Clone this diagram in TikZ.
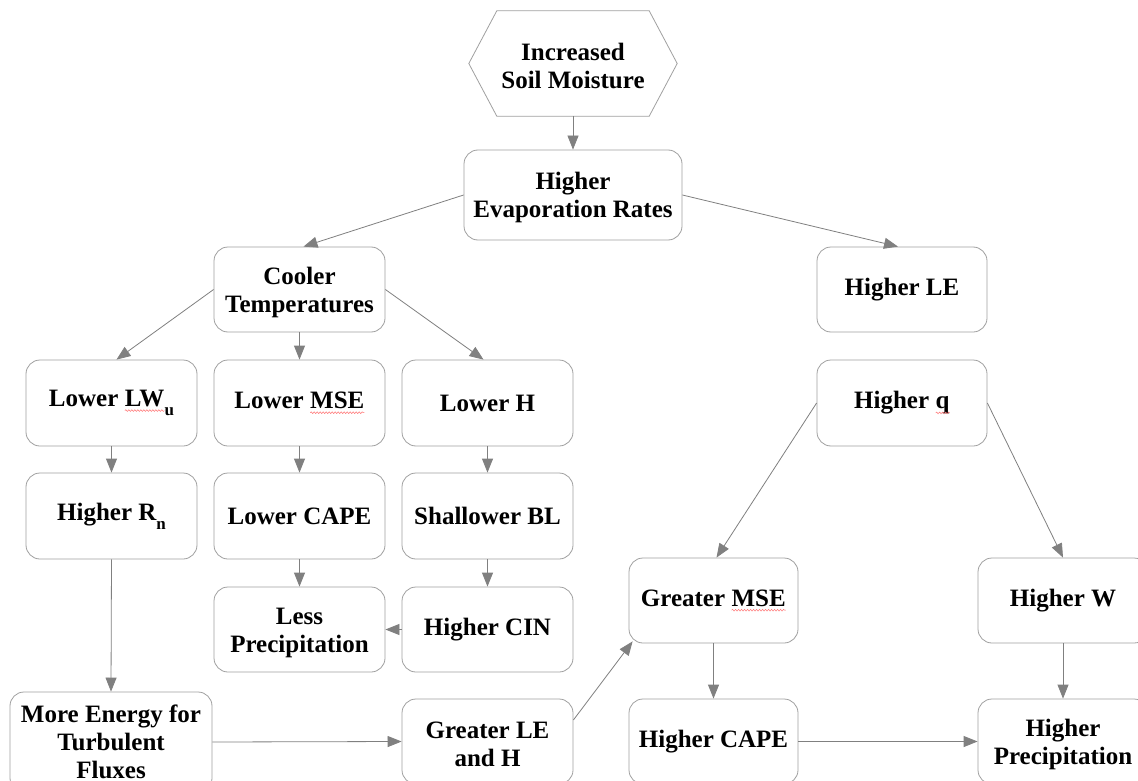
\documentclass[tikz,border=0pt]{standalone}
\usepackage{fontspec}
\setmainfont{Liberation Serif}
\usetikzlibrary{arrows.meta,calc,decorations.pathmorphing}
\newcommand\redwave[1]{\tikz[x=1pt,y=1pt,baseline=(wv.base)]{\node[inner sep=0pt,outer sep=0pt,draw=none,fill=none,minimum size=0pt,rounded corners=0pt] (wv) {#1};
  \draw[red!55, line width=0.5pt, rounded corners=0pt, decorate, decoration={snake,amplitude=0.9pt,segment length=3pt}] ([yshift=-4pt]wv.base west) -- ([yshift=-4pt]wv.base east);}}
\newcommand\mysub[1]{\raisebox{-9pt}{\fontsize{17}{17}\selectfont #1}}
\newcommand\tp{\rule{0pt}{23pt}}
\definecolor{boxgray}{HTML}{A0A0A0}
\definecolor{arrgray}{HTML}{808080}
\tikzset{
  box/.style={draw=boxgray, line width=0.8pt, rounded corners=14pt, fill=white,
    minimum width=171pt, minimum height=86pt, inner sep=0pt, align=center,
    font=\fontsize{25}{28}\selectfont\bfseries},
  hexnode/.style={minimum width=208pt, minimum height=105pt, inner sep=0pt, align=center,
    font=\fontsize{25}{28}\selectfont\bfseries},
  conn/.style={draw=arrgray, line width=0.8pt, -{Triangle[length=14pt,width=11pt]}, color=arrgray},
}
\begin{document}
\begin{tikzpicture}[x=1pt,y=-1pt]
\useasboundingbox (0,0) rectangle (1138,781);
\clip (0,0) rectangle (1138,781);
\fill[white] (0,0) rectangle (1138,781);
% hexagon
\node[hexnode] (hex) at (573,63.5) {\tp Increased\\Soil Moisture};
\draw[boxgray, line width=0.8pt] (hex.west) -- ($(hex.north west)+(28,0)$) -- ($(hex.north east)+(-28,0)$)
  -- (hex.east) -- ($(hex.south east)+(-28,0)$) -- ($(hex.south west)+(28,0)$) -- cycle;
% boxes
\node[box, minimum width=218pt, minimum height=90pt] (evap) at (573,195) {\tp Higher\\Evaporation Rates};
\node[box, minimum height=85pt] (cool) at (299.5,289.5) {\tp Cooler\\Temperatures};
\node[box, minimum width=170pt, minimum height=85pt] (hle) at (902,289.5) {Higher LE};
\node[box] (lw) at (111.5,403) {Lower \redwave{LW}\mysub{u}};
\node[box] (lmse) at (299.5,403) {Lower \redwave{MSE}};
\node[box] (lh) at (487.5,403) {Lower H};
\node[box, minimum width=170pt] (hq) at (902,403) {Higher \redwave{q}};
\node[box] (rn) at (111.5,516) {Higher R\mysub{n}};
\node[box] (lcape) at (299.5,516) {Lower CAPE};
\node[box] (sbl) at (487.5,516) {Shallower BL};
\node[box, minimum height=85pt] (lp) at (299.5,629.5) {\tp Less\\Precipitation};
\node[box, minimum height=85pt] (cin) at (487.5,629.5) {Higher CIN};
\node[box, minimum width=169pt, minimum height=85pt] (gmse) at (713.5,600.5) {Greater \redwave{MSE}};
\node[box, minimum width=170pt, minimum height=85pt] (hw) at (1063,600.5) {Higher W};
\node[box, minimum width=202pt, minimum height=100pt] (me) at (111,742) {More Energy for\\Turbulent\\Fluxes};
\node[box, minimum height=85pt] (gle) at (487.5,741.5) {\tp Greater LE\\and H};
\node[box, minimum width=169pt, minimum height=85pt] (hcape) at (713.5,741.5) {Higher CAPE};
\node[box, minimum width=170pt, minimum height=85pt] (hp) at (1063,741.5) {\tp Higher\\Precipitation};
% connectors
\draw[conn] (hex.south) -- (evap.north);
\draw[conn] (evap.west) -- ($(cool.north)+(4,0)$);
\draw[conn] (evap.east) -- ($(hle.north)+(-4,0)$);
\draw[conn] (cool.west) -- ($(lw.north)+(5,0)$);
\draw[conn] (cool.south) -- (lmse.north);
\draw[conn] (cool.east) -- ($(lh.north)+(-4,0)$);
\draw[conn] (lw.south) -- (rn.north);
\draw[conn] (rn.south) -- (me.north);
\draw[conn] (lmse.south) -- (lcape.north);
\draw[conn] (lcape.south) -- (lp.north);
\draw[conn] (lh.south) -- (sbl.north);
\draw[conn] (sbl.south) -- (cin.north);
\draw[conn] (cin.west) -- (lp.east);
\draw[conn] (me.east) -- (gle.west);
\draw[conn] ($(gle.east)+(0,-21.5)$) -- ($(gmse.south west)+(4,-2)$);
\draw[conn] (hq.west) -- ($(gmse.north)+(3,0)$);
\draw[conn] (hq.east) -- (hw.north);
\draw[conn] (gmse.south) -- (hcape.north);
\draw[conn] (hw.south) -- (hp.north);
\draw[conn] (hcape.east) -- (hp.west);
\end{tikzpicture}
\end{document}
